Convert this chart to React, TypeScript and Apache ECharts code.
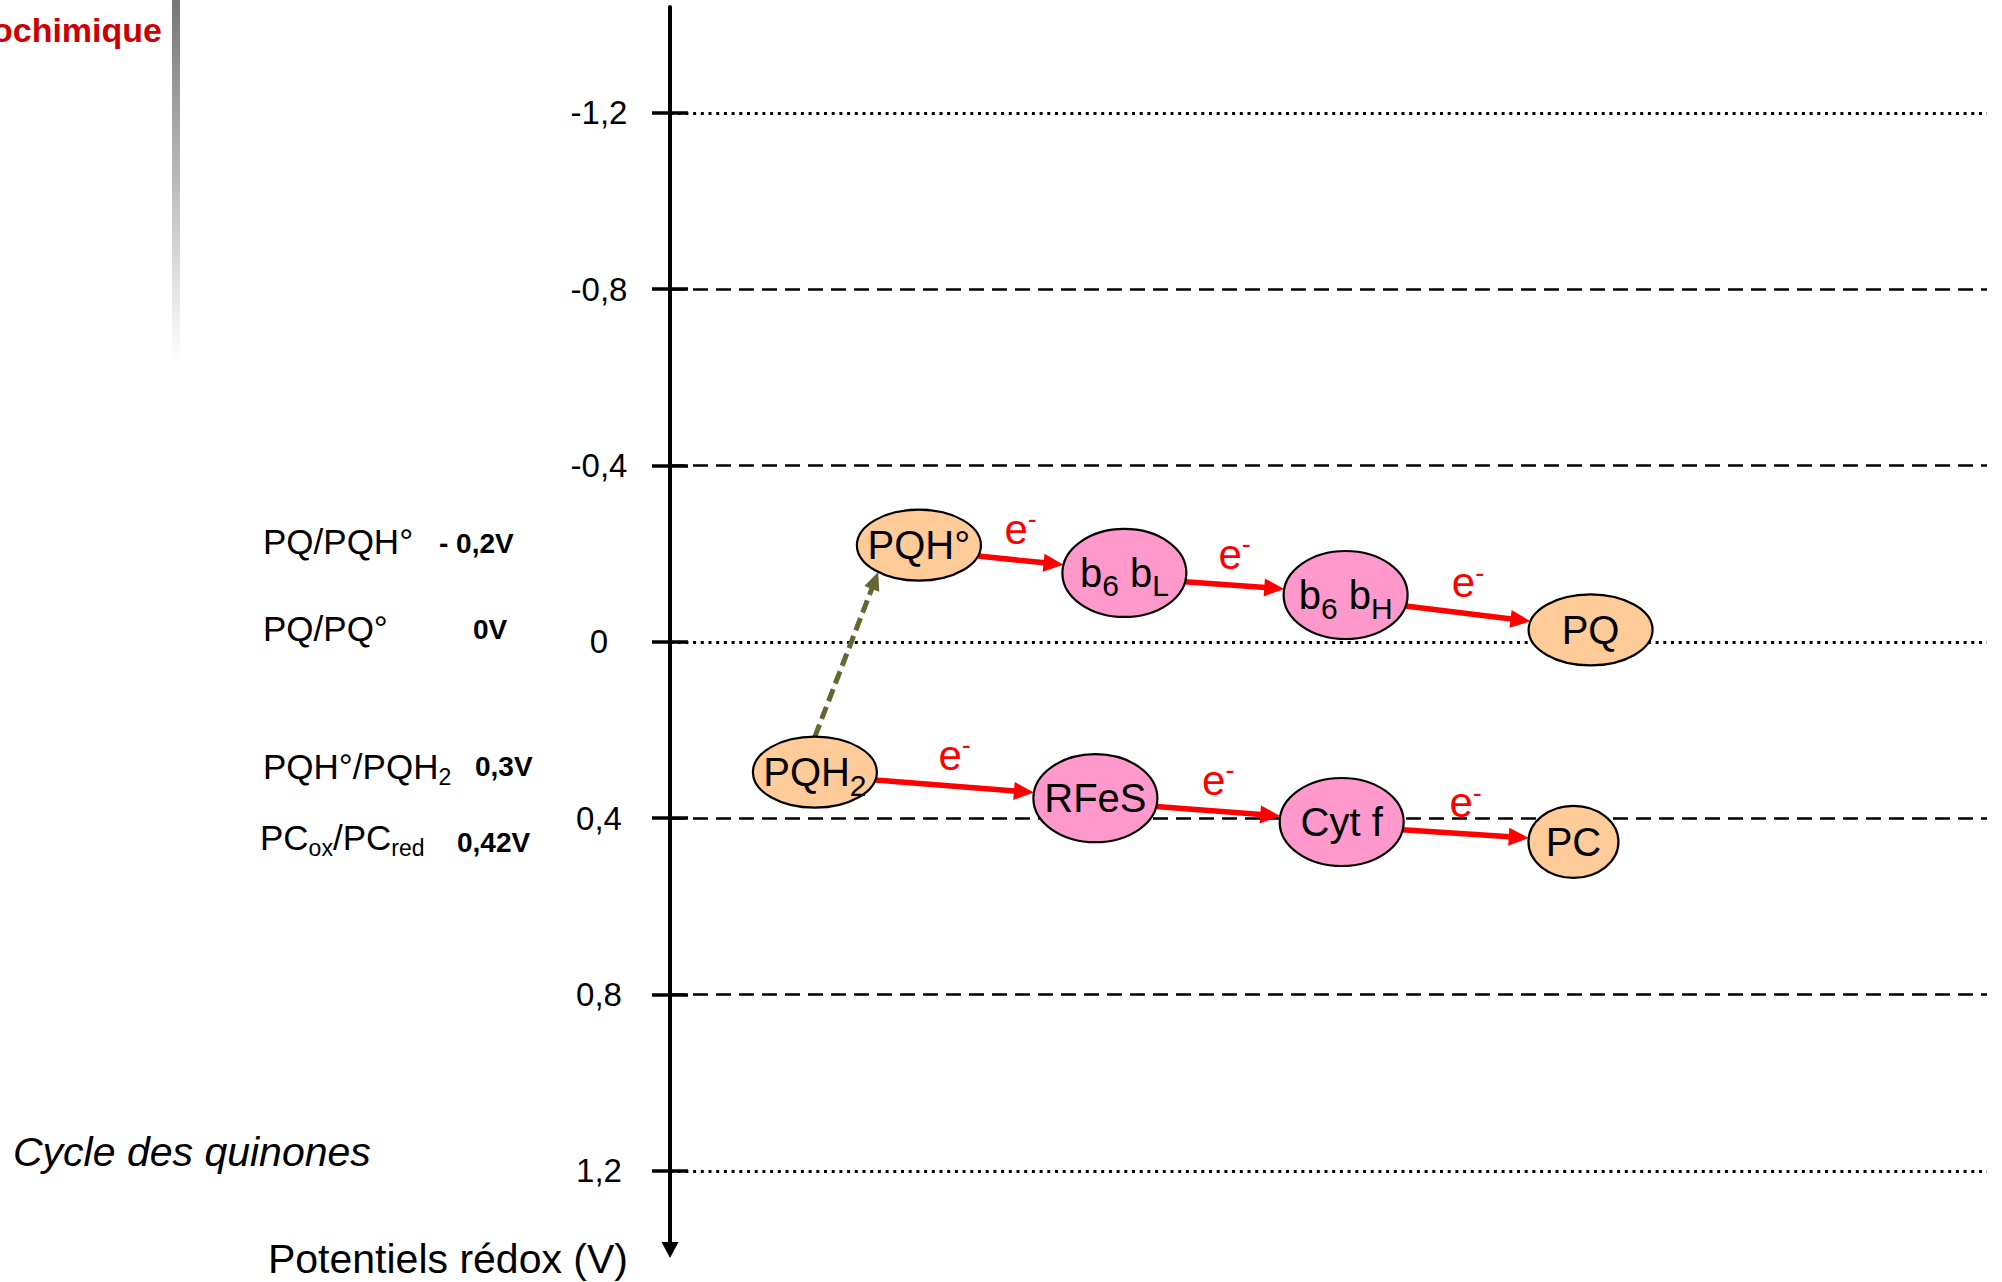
import React, { useEffect, useRef } from 'react';
import * as echarts from 'echarts';

// ---------- data ----------
const tickValues = [-1.2, -0.8, -0.4, 0, 0.4, 0.8, 1.2];
const tickLabels = ['-1,2', '-0,8', '-0,4', '0', '0,4', '0,8', '1,2'];
const dottedLevels = [-1.2, 0, 1.2];
const dashedLevels = [-0.8, -0.4, 0.4, 0.8];

const nodeLabels = ['PQH°', 'b_{6} b_{L}', 'b_{6} b_{H}', 'PQ', 'PQH_{2}', 'RFeS', 'Cyt f', 'PC'];
const nodeKinds = ['quinone', 'cytochrome', 'cytochrome', 'quinone', 'quinone', 'cytochrome', 'cytochrome', 'plastocyanin'];
const nodeStep = [1.89, 3.45, 5.13, 6.99, 1.1, 3.23, 5.1, 6.86];
const nodePotential = [-0.219, -0.156, -0.106, -0.027, 0.296, 0.355, 0.409, 0.454];

const electronSteps: [number, number][] = [[0, 1], [1, 2], [2, 3], [4, 5], [5, 6], [6, 7]];
const protonSteps: [number, number][] = [[4, 0]];
const electronLabel = 'e^{-}';

const coupleNames = ['PQ/PQH°', 'PQ/PQ°', 'PQH°/PQH_{2}', 'PC_{ox}/PC_{red}'];
const coupleValueLabels = ['- 0,2V', '0V', '0,3V', '0,42V'];
const couplePotentials = [-0.2, 0, 0.3, 0.42];

const pageTitle = 'ochimique';
const cycleTitle = 'Cycle des quinones';
const axisTitle = 'Potentiels rédox (V)';

// ---------- layout / style ----------
const FONT = "'Liberation Sans', Arial, Helvetica, sans-serif";
const KIND_STYLE: Record<string, { rx: number; ry: number; fill: string }> = {
  quinone: { rx: 62, ry: 35.5, fill: '#FFCC99' },
  cytochrome: { rx: 62, ry: 44, fill: '#FF99CC' },
  plastocyanin: { rx: 45, ry: 36, fill: '#FFCC99' },
};
const coupleNameX = [263, 263, 263, 260];
const coupleNameDy = [-12, -13, -7, 11];
const coupleValueX = [439, 473, 475, 457];
const coupleValueDy = [-10, -12, -7, 16];

function toRich(s: string) {
  let out = '';
  const re = /([_^])\{([^}]*)\}/g;
  let last = 0;
  let m: RegExpExecArray | null;
  while ((m = re.exec(s))) {
    if (m.index > last) out += `{m|${s.slice(last, m.index)}}`;
    out += `{${m[1] === '_' ? 's' : 'u'}|${m[2]}}`;
    last = re.lastIndex;
  }
  if (last < s.length) out += `{m|${s.slice(last)}}`;
  return out;
}

// subscripts are lowered with a top padding (shift = padding / 2)
const nodeRich = {
  m: { fontSize: 40, lineHeight: 40, fontFamily: FONT, fill: '#000' },
  s: { fontSize: 30, lineHeight: 10, padding: [26, 0, 0, 0], fontFamily: FONT, fill: '#000' },
};
const coupleRich = {
  m: { fontSize: 35, lineHeight: 35, fontFamily: FONT, fill: '#000' },
  s: { fontSize: 23, lineHeight: 10, padding: [20, 0, 0, 0], fontFamily: FONT, fill: '#000' },
};
const eRich = {
  m: { fontSize: 42, lineHeight: 42, fontFamily: FONT, fill: '#FF0000' },
  u: { fontSize: 27, lineHeight: 10, padding: [0, 0, 20, 0], fontFamily: FONT, fill: '#FF0000' },
};

function ellipseToward(c: number[], kind: string, dx: number, dy: number) {
  const s = KIND_STYLE[kind];
  const t = 1 / Math.sqrt((dx / s.rx) ** 2 + (dy / s.ry) ** 2);
  return [c[0] + dx * t, c[1] + dy * t];
}
function ellipseAt(c: number[], kind: string, deg: number) {
  const s = KIND_STYLE[kind];
  const a = (deg * Math.PI) / 180;
  return [c[0] + s.rx * Math.cos(a), c[1] + s.ry * Math.sin(a)];
}
function arrow(p0: number[], p1: number[], color: string, width: number, headLen: number, headHalf: number, dash?: number[]) {
  const dx = p1[0] - p0[0];
  const dy = p1[1] - p0[1];
  const L = Math.hypot(dx, dy);
  const ux = dx / L;
  const uy = dy / L;
  const bx = p1[0] - ux * headLen;
  const by = p1[1] - uy * headLen;
  return [
    {
      type: 'line',
      shape: { x1: p0[0], y1: p0[1], x2: bx + ux, y2: by + uy },
      style: { stroke: color, lineWidth: width, lineDash: dash || null, lineCap: 'butt' },
    },
    {
      type: 'polygon',
      shape: { points: [[p1[0], p1[1]], [bx - uy * headHalf, by + ux * headHalf], [bx + uy * headHalf, by - ux * headHalf]] },
      style: { fill: color },
    },
  ];
}

const tickLabelFor = (v: number) => {
  const i = tickValues.findIndex((t) => Math.abs(t - v) < 1e-6);
  return i >= 0 ? tickLabels[i] : '';
};

const levelData = [
  ...dottedLevels.map((v) => [0, v, 0]),
  ...dashedLevels.map((v) => [0, v, 1]),
];
const nodeData = nodeStep.map((x, i) => [x, nodePotential[i], i]);
const electronData = electronSteps.map(([a, b]) => [nodeStep[a], nodePotential[a], nodeStep[b], nodePotential[b], a, b]);
const protonData = protonSteps.map(([a, b]) => [nodeStep[a], nodePotential[a], nodeStep[b], nodePotential[b], a, b]);
const coupleData = couplePotentials.map((v, i) => [0, v, i]);

const yBase = { type: 'value', inverse: true, min: -1.44, max: 1.38, position: 'left' };

const option: any = {
  animation: false,
  backgroundColor: '#fff',
  grid: { left: 670, right: 15, top: 7, bottom: 32, containLabel: false },
  xAxis: { type: 'value', min: 0, max: 10, show: false },
  yAxis: [
    {
      ...yBase,
      axisLine: { show: true, onZero: false, lineStyle: { color: '#000', width: 4 }, symbol: ['triangle', 'none'], symbolSize: [17, 16] },
      axisTick: { show: true, customValues: tickValues, length: 18, inside: false, lineStyle: { color: '#000', width: 3.5 } },
      axisLabel: {
        show: true, customValues: tickValues, formatter: (v: number) => tickLabelFor(v),
        margin: 71, align: 'center', color: '#000', fontSize: 33, fontFamily: FONT, padding: [13, 0, 0, 0],
      },
      splitLine: { show: false },
    },
    {
      ...yBase,
      axisLine: { show: false, onZero: false },
      axisTick: { show: true, customValues: tickValues, length: 18, inside: true, lineStyle: { color: '#000', width: 3.5 } },
      axisLabel: { show: false },
      splitLine: { show: false },
    },
  ],
  graphic: {
    elements: [
      {
        type: 'rect', shape: { x: 172, y: 0, width: 8, height: 360 },
        style: { fill: { type: 'linear', x: 0, y: 0, x2: 0, y2: 1, colorStops: [{ offset: 0, color: '#777777' }, { offset: 1, color: '#ffffff' }] } },
        silent: true,
      },
      {
        type: 'text', x: 162, y: 30,
        style: { text: pageTitle, fontSize: 34, fontWeight: 'bold', fontFamily: FONT, fill: '#CC0000', align: 'right', verticalAlign: 'middle' },
      },
      {
        type: 'text', x: 13, y: 1152,
        style: { text: cycleTitle, fontSize: 41, fontStyle: 'italic', fontFamily: FONT, fill: '#000', align: 'left', verticalAlign: 'middle' },
      },
      {
        type: 'text', x: 628, y: 1259,
        style: { text: axisTitle, fontSize: 41, fontFamily: FONT, fill: '#000', align: 'right', verticalAlign: 'middle' },
      },
    ],
  },
  series: [
    {
      type: 'custom', name: 'levels', z: 1, silent: true,
      data: levelData, encode: { x: 0, y: 1 },
      renderItem: (params: any, api: any) => {
        const v = api.value(1);
        const kind = api.value(2);
        const a = api.coord([0, v]);
        const b = api.coord([10, v]);
        const y = Math.round(a[1]) + 0.5;
        return {
          type: 'line',
          shape: { x1: a[0], y1: y, x2: b[0], y2: y },
          style: kind === 0
            ? { stroke: '#000', lineWidth: 3, lineDash: [3, 4.7] }
            : { stroke: '#000', lineWidth: 2.6, lineDash: [15, 8] },
        };
      },
    },
    {
      type: 'custom', name: 'couples', z: 2, silent: true,
      data: coupleData, encode: { x: 0, y: 1 },
      renderItem: (params: any, api: any) => {
        const v = api.value(1);
        const i = api.value(2);
        const y = api.coord([0, v])[1];
        return {
          type: 'group',
          children: [
            {
              type: 'text', x: coupleNameX[i], y: y + coupleNameDy[i],
              style: { text: toRich(coupleNames[i]), align: 'left', verticalAlign: 'middle', fill: '#000', rich: coupleRich },
            },
            {
              type: 'text', x: coupleValueX[i], y: y + coupleValueDy[i],
              style: { text: coupleValueLabels[i], fontSize: 28, fontWeight: 'bold', fontFamily: FONT, fill: '#000', align: 'left', verticalAlign: 'middle' },
            },
          ],
        };
      },
    },
    {
      type: 'custom', name: 'proton', z: 3, silent: true,
      data: protonData, encode: { x: [0, 2], y: [1, 3] },
      renderItem: (params: any, api: any) => {
        const c0 = api.coord([api.value(0), api.value(1)]);
        const c1 = api.coord([api.value(2), api.value(3)]);
        const a = api.value(4);
        const b = api.value(5);
        const p0 = ellipseAt(c0, nodeKinds[a], -90);
        const p1 = ellipseAt(c1, nodeKinds[b], 131);
        return { type: 'group', children: arrow(p0, p1, '#666633', 5, 18, 8, [13, 6]) };
      },
    },
    {
      type: 'custom', name: 'electrons', z: 3, silent: true,
      data: electronData, encode: { x: [0, 2], y: [1, 3] },
      renderItem: (params: any, api: any) => {
        const c0 = api.coord([api.value(0), api.value(1)]);
        const c1 = api.coord([api.value(2), api.value(3)]);
        const a = api.value(4);
        const b = api.value(5);
        const dx = c1[0] - c0[0];
        const dy = c1[1] - c0[1];
        const p0 = ellipseToward(c0, nodeKinds[a], dx, dy + 10);
        const p1 = ellipseToward(c1, nodeKinds[b], -dx, -dy);
        const mx = (p0[0] + p1[0]) / 2;
        const my = (p0[1] + p1[1]) / 2;
        return {
          type: 'group',
          children: [
            ...arrow(p0, p1, '#FF0000', 5.5, 20, 9),
            {
              type: 'text', x: mx, y: my - 31,
              style: { text: toRich(electronLabel), align: 'center', verticalAlign: 'middle', fill: '#FF0000', rich: eRich },
            },
          ],
        };
      },
    },
    {
      type: 'custom', name: 'nodes', z: 4, silent: true,
      data: nodeData, encode: { x: 0, y: 1 },
      renderItem: (params: any, api: any) => {
        const i = api.value(2);
        const c = api.coord([api.value(0), api.value(1)]);
        const k = KIND_STYLE[nodeKinds[i]];
        return {
          type: 'group',
          children: [
            { type: 'ellipse', shape: { cx: c[0], cy: c[1], rx: k.rx, ry: k.ry }, style: { fill: k.fill, stroke: '#000', lineWidth: 2.2 } },
            {
              type: 'text', x: c[0], y: c[1],
              style: { text: toRich(nodeLabels[i]), align: 'center', verticalAlign: 'middle', fill: '#000', rich: nodeRich },
            },
          ],
        };
      },
    },
  ],
};

export default function App() {
  const ref = useRef<HTMLDivElement>(null);
  useEffect(() => {
    const chart = echarts.init(ref.current as HTMLDivElement, null, { renderer: 'svg' });
    chart.setOption(option);
    return () => chart.dispose();
  }, []);
  return (
    <div
      ref={ref}
      style={{ position: 'absolute', left: 0, top: 0, width: 2002, height: 1282, background: '#fff' }}
    />
  );
}
